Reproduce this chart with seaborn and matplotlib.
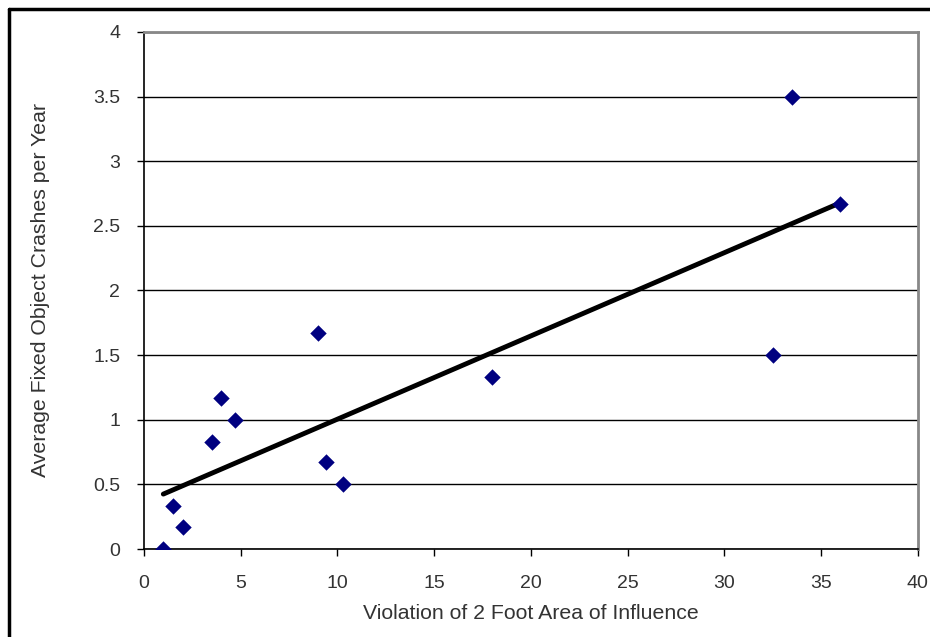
"""
Fixed object crashes vs. 2 ft area-of-influence violations, scatter with linear trend.
"""

import pandas as pd
import matplotlib.pyplot as plt
import seaborn as sns
from matplotlib.lines import Line2D

# Data
violations = [1, 1.5, 2, 3.5, 4, 4.7, 9.0, 9.4, 10.3, 18.0, 32.5, 33.5, 36]
crashesPerYear = [0, 0.33, 0.17, 0.83, 1.17, 1.0, 1.67, 0.67, 0.5, 1.33, 1.5, 3.5, 2.67]

xTicks = [0, 5, 10, 15, 20, 25, 30, 35, 40]
yTicks = [0, 0.5, 1, 1.5, 2, 2.5, 3, 3.5, 4]

df = pd.DataFrame({'violations': violations, 'crashes': crashesPerYear})

sns.set_style("white")
plt.rcParams['font.family'] = ['Liberation Sans', 'DejaVu Sans']

fig = plt.figure(figsize=(9.3, 6.37), dpi=100)
ax = fig.add_axes([0.1548, 0.138, 0.832, 0.812])

# Trend line (least squares) and points
sns.regplot(data=df, x='violations', y='crashes', ax=ax, ci=None,
            scatter=False, line_kws={'color': 'black', 'linewidth': 3.5})
sns.scatterplot(data=df, x='violations', y='crashes', ax=ax, marker='D',
                color='#000080', s=70, edgecolor='#000080', linewidth=0, zorder=4)

ax.set_xlim(0, 40)
ax.set_ylim(0, 4)
ax.set_xticks(xTicks)
ax.set_yticks(yTicks)
ax.set_xticklabels([str(t) for t in xTicks])
ax.set_yticklabels([f'{t:g}' for t in yTicks])
ax.yaxis.grid(True, color='black', linewidth=1.0)
ax.set_axisbelow(True)

ax.tick_params(axis='both', direction='out', length=5, width=1, color='black',
               labelsize=14, labelcolor='#333333', bottom=True, left=True)
ax.tick_params(axis='x', pad=14)
ax.tick_params(axis='y', pad=12)

for side in ['top', 'right']:
    ax.spines[side].set_color('#888888')
    ax.spines[side].set_linewidth(2)
for side in ['left', 'bottom']:
    ax.spines[side].set_color('black')
    ax.spines[side].set_linewidth(1.2)

ax.set_xlabel('Violation of 2 Foot Area of Influence', fontsize=15.3, color='#333333', labelpad=8)
ax.set_ylabel('Average Fixed Object Crashes per Year', fontsize=15.3, color='#333333', labelpad=31)

# Outer frame (left and top edges of the original chart box)
fig.add_artist(Line2D([0.0097, 0.0097], [0.0, 0.986], transform=fig.transFigure,
                      color='black', linewidth=2.5))
fig.add_artist(Line2D([0.0097, 1.0], [0.986, 0.986], transform=fig.transFigure,
                      color='black', linewidth=2.5))

fig.savefig('out.png', dpi=100)
